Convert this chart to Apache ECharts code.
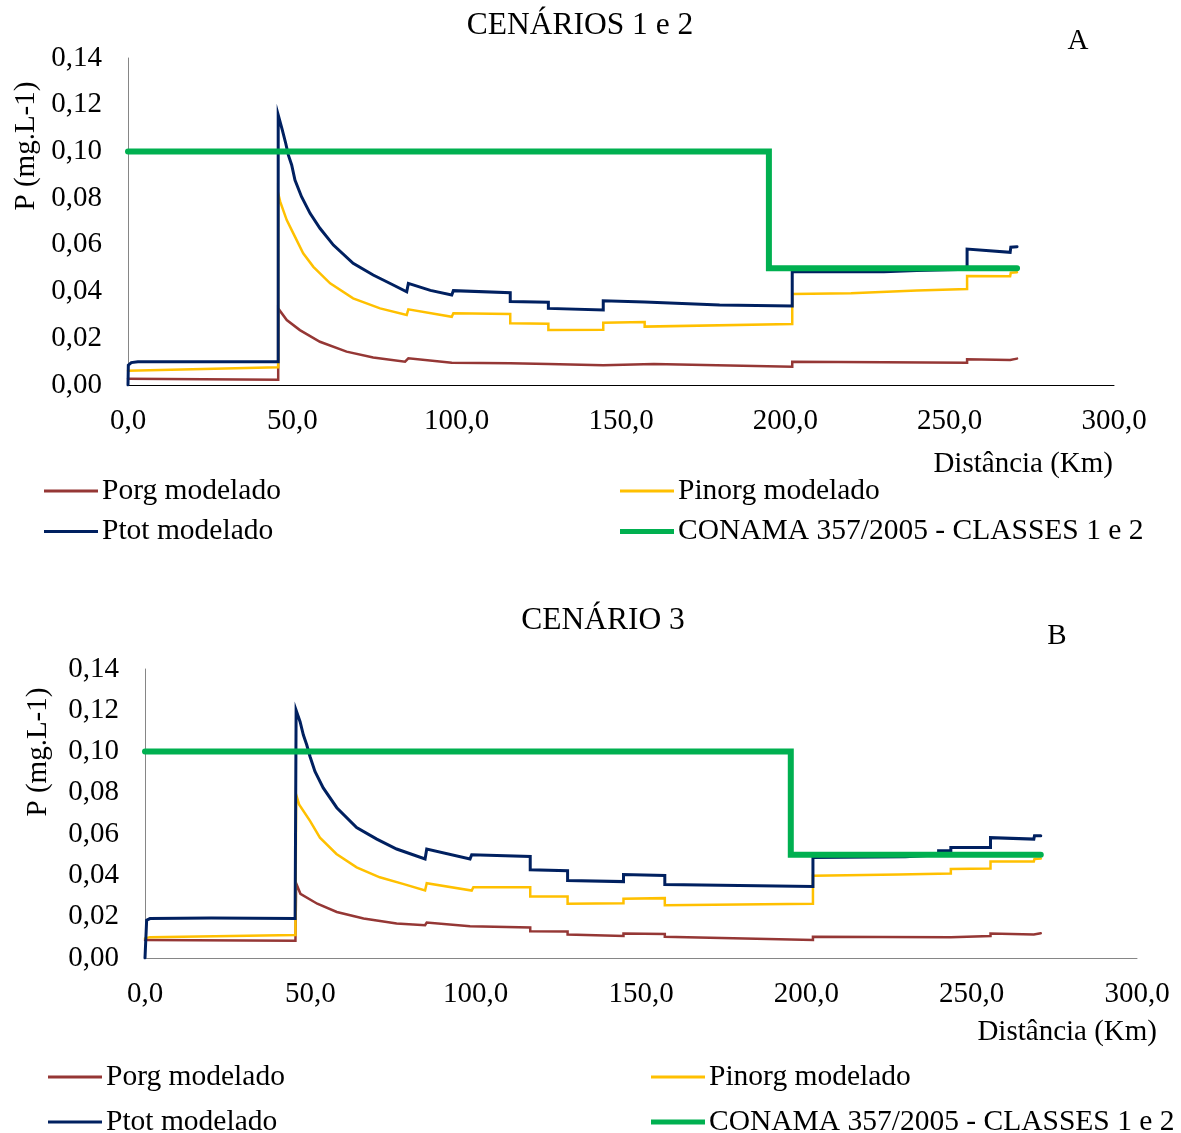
<!DOCTYPE html>
<html>
<head>
<meta charset="utf-8">
<script src="https://cdn.jsdelivr.net/npm/echarts@6/dist/echarts.min.js"></script>
<style>
  html, body { margin: 0; padding: 0; background: #fff; }
  #chart { width: 1181px; height: 1133px; }
</style>
</head>
<body>
<div id="chart"></div>
<script>
// Values: [distance km, P mg/L]
// Panel A - CENÁRIOS 1 e 2
var porgA = [[0,0.0027],[45.7,0.0023],[45.7,0.0328],[48.3,0.0278],[52.3,0.0235],[58.4,0.0185],[66.5,0.0143],[74.6,0.0118],[84.3,0.0100],[85.3,0.0114],[98.5,0.0095],[99,0.0099],[116.3,0.0093],[127.9,0.0090],[144.6,0.0085],[144.6,0.0092],[160,0.0090],[202.1,0.0078],[202.1,0.0100],[230,0.0097],[255.3,0.0095],[255.3,0.0110],[268.4,0.0107],[268.6,0.0112],[270.5,0.0113]];
var pinorgA = [[0,0.0061],[45.7,0.0076],[45.7,0.0820],[46.3,0.0785],[48.3,0.0706],[50.3,0.0649],[53.3,0.0564],[56.4,0.0506],[61.5,0.0435],[68.5,0.0371],[76.7,0.0328],[84.8,0.0300],[85.3,0.0324],[98.5,0.0292],[99,0.0307],[116.3,0.0304],[116.3,0.0264],[127.9,0.0262],[127.9,0.0235],[144.6,0.0236],[144.6,0.0267],[157.2,0.0270],[157.2,0.0250],[202.1,0.0261],[202.1,0.0390],[220,0.0393],[240,0.0405],[255.3,0.0411],[255.3,0.0467],[268.4,0.0466],[268.6,0.0481],[270.5,0.0483]];
var ptotA = [[0,0],[0.1,0.0085],[1,0.0096],[3,0.0100],[45.7,0.0100],[45.7,0.1156],[46.9,0.1094],[47.3,0.1094],[48.0,0.1034],[48.8,0.0984],[49.8,0.0942],[50.8,0.0877],[52.8,0.0806],[55.4,0.0735],[58.4,0.0671],[62.5,0.0599],[68.5,0.0521],[74.6,0.0471],[80.7,0.0428],[84.8,0.0399],[85.3,0.0435],[92,0.0405],[98.5,0.0385],[99,0.0404],[116.3,0.0395],[116.3,0.0357],[127.9,0.0354],[127.9,0.0328],[144.6,0.0321],[144.6,0.0361],[157.2,0.0355],[157.2,0.0347],[180,0.0342],[202.1,0.0338],[202.1,0.0485],[230,0.0485],[240,0.0490],[255.3,0.0495],[255.3,0.0582],[268.4,0.0568],[268.6,0.0590],[270.5,0.0592]];
var conamaA = [[0,0.1],[195,0.1],[195,0.05],[270.5,0.05]];

// Panel B - CENÁRIO 3
var porgB = [[0,0.0087],[45.5,0.0083],[45.7,0.0362],[47,0.0311],[52.1,0.0263],[58,0.0223],[66.1,0.0191],[76.1,0.0167],[84.7,0.0159],[85.2,0.0172],[98.3,0.0154],[98.8,0.0160],[116.5,0.0148],[116.5,0.0130],[127.8,0.0128],[127.8,0.0114],[144.7,0.0107],[144.7,0.0119],[157.2,0.0116],[157.2,0.0103],[202,0.0087],[202,0.0103],[243.7,0.0100],[243.7,0.0105],[255.7,0.0106],[255.7,0.0119],[268.8,0.0114],[269,0.0119],[270.9,0.0120]];
var pinorgB = [[0,0.0095],[1.5,0.0101],[45.5,0.0111],[45.7,0.0792],[46.6,0.0744],[49.9,0.0664],[52.9,0.0583],[57.9,0.0504],[64,0.0439],[71,0.0391],[78,0.0359],[84.7,0.0327],[85.2,0.0362],[98.8,0.0327],[99.3,0.0343],[116.5,0.0343],[116.5,0.0298],[127.8,0.0298],[127.8,0.0263],[144.7,0.0265],[144.7,0.0287],[157.2,0.0290],[157.2,0.0255],[202,0.0263],[202,0.0399],[228,0.0404],[243.7,0.0409],[243.7,0.0431],[255.7,0.0434],[255.7,0.0468],[268.8,0.0468],[269,0.0480],[270.9,0.0482]];
var ptotB = [[0,0],[0.5,0.0183],[1.5,0.0191],[20,0.0194],[45.4,0.0191],[45.7,0.1200],[46.9,0.1145],[47.9,0.1080],[48.9,0.1033],[49.9,0.0976],[51.4,0.0904],[53.9,0.0824],[58,0.0728],[64,0.0632],[70.1,0.0576],[76.1,0.0528],[84.7,0.0480],[85.2,0.0528],[98.3,0.0480],[98.8,0.0500],[116.5,0.0492],[116.5,0.0427],[127.8,0.0423],[127.8,0.0375],[144.7,0.0370],[144.7,0.0404],[157.2,0.0400],[157.2,0.0356],[202,0.0346],[202,0.0487],[230,0.0490],[240,0.0500],[240,0.0520],[243.7,0.0520],[243.7,0.0535],[255.7,0.0535],[255.7,0.0583],[268.8,0.0576],[269,0.0592],[270.9,0.0592]];
var conamaB = [[0,0.1],[195.3,0.1],[195.3,0.05],[270.9,0.05]];

var names = ['Porg modelado', 'Pinorg modelado', 'Ptot modelado', 'CONAMA 357/2005 - CLASSES 1 e 2'];
var colors = ['#953735', '#FFC000', '#002060', '#00B050'];
var widths = [2.5, 2.5, 3, 6];

var FONT = 'Liberation Serif';
var chart = echarts.init(document.getElementById('chart'));

function xAx(grid, lineColor) {
    return {
        type: 'value', gridIndex: grid, min: 0, max: 300, interval: 50,
        axisLine: { lineStyle: { color: lineColor, width: 1 } },
        axisTick: { show: false },
        splitLine: { show: false },
        axisLabel: {
            color: '#000', fontFamily: FONT, fontSize: 29, margin: 22,
            formatter: function (v) { return v.toFixed(1).replace('.', ','); }
        }
    };
}
function yAx(grid) {
    return {
        type: 'value', gridIndex: grid, min: 0, max: 0.14, interval: 0.02,
        axisLine: { show: true, lineStyle: { color: '#868686', width: 1 } },
        axisTick: { show: false },
        splitLine: { show: false },
        axisLabel: {
            color: '#000', fontFamily: FONT, fontSize: 29, margin: 26, padding: [4, 0, 0, 0],
            formatter: function (v) { return v.toFixed(2).replace('.', ','); }
        }
    };
}
function mkSeries(data, i, xi) {
    return {
        name: names[i], type: 'line', data: data,
        xAxisIndex: xi, yAxisIndex: xi,
        color: colors[i], showSymbol: false, symbol: 'none',
        lineStyle: { width: widths[i], color: colors[i], cap: 'round', join: 'miter' },
        z: i === 3 ? 5 : 2
    };
}
// legend positions: [left, centerY]
var legPos = [
    [[44, 491], [620, 491], [44, 531.5], [620, 531.5]],
    [[48, 1077], [651, 1077], [48, 1122], [651, 1122]]
];
var legends = [];
legPos.forEach(function (panel) {
    panel.forEach(function (p, i) {
        legends.push({
            data: [{ name: names[i], icon: 'rect' }],
            left: p[0], top: p[1] - 15, padding: 0,
            itemWidth: 54, itemHeight: i === 3 ? 5 : 3, itemGap: 0,
            selectedMode: false,
            textStyle: { fontFamily: FONT, fontSize: 29.5, color: '#000', padding: [0, 0, 0, -1] }
        });
    });
});

function txt(str, x, y, align, rot) {
    return {
        type: 'text', x: x, y: y, rotation: rot || 0,
        style: { text: str, fontFamily: FONT, fontSize: 29, fill: '#000', align: align, verticalAlign: 'middle' }
    };
}

var option = {
    animation: false,
    backgroundColor: '#fff',
    title: [
        { text: 'CENÁRIOS 1 e 2', left: 580, top: 10, textAlign: 'center', padding: 0,
          textStyle: { fontFamily: FONT, fontSize: 31.5, fontWeight: 'normal', color: '#000' } },
        { text: 'CENÁRIO 3', left: 603, top: 605, textAlign: 'center', padding: 0,
          textStyle: { fontFamily: FONT, fontSize: 31.5, fontWeight: 'normal', color: '#000' } }
    ],
    grid: [
        { left: 128, top: 58, width: 986, height: 327 },
        { left: 145, top: 669, width: 992, height: 289 }
    ],
    xAxis: [xAx(0, '#000'), xAx(1, '#868686')],
    yAxis: [yAx(0), yAx(1)],
    legend: legends,
    graphic: [
        txt('P (mg.L-1)', 26, 146, 'center', Math.PI / 2),
        txt('P (mg.L-1)', 38, 752, 'center', Math.PI / 2),
        txt('A', 1078, 41, 'center'),
        txt('B', 1057, 636, 'center'),
        txt('Distância (Km)', 1113, 464, 'right'),
        txt('Distância (Km)', 1157, 1032, 'right')
    ],
    series: [
        mkSeries(porgA, 0, 0), mkSeries(pinorgA, 1, 0), mkSeries(ptotA, 2, 0), mkSeries(conamaA, 3, 0),
        mkSeries(porgB, 0, 1), mkSeries(pinorgB, 1, 1), mkSeries(ptotB, 2, 1), mkSeries(conamaB, 3, 1)
    ]
};
chart.setOption(option);
</script>
</body>
</html>
